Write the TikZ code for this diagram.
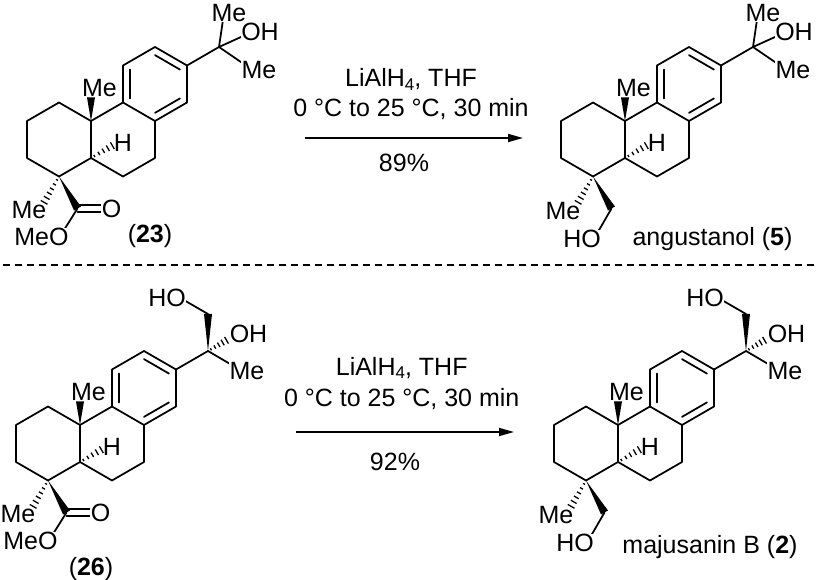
\documentclass[tikz,border=0pt]{standalone}
\usepackage{fontspec}
\setmainfont{Liberation Sans}
\usetikzlibrary{calc,arrows.meta}

\tikzset{
  bond/.style={line width=1.75pt, line join=round, line cap=round},
  lbl/.style={inner sep=0.6pt, fill=white, font=\fontsize{25}{25}\selectfont},
  txt/.style={inner sep=0pt, font=\fontsize{25}{25}\selectfont, anchor=base},
  rxnarrow/.style={line width=1.5pt, -{Triangle[length=15pt,width=8pt]}},
  sepline/.style={line width=1.5pt, dash pattern=on 7pt off 5pt},
}

\newcommand\sbs[1]{\raisebox{-3.5pt}{\fontsize{17}{17}\selectfont #1}}

% wedge: narrow at #1, wide (half width #3) at #2
\newcommand\wedgebond[3]{%
  \fill ($(#1)$) -- ($(#2)!#3!90:(#1)$) -- ($(#2)!#3!-90:(#1)$) -- cycle;
}
% hashed bond: #1 start, #2 end, #3 number of lines, #4 max half length
\newcommand\hashbond[4]{%
  \foreach \i in {1,...,#3}{%
    \pgfmathsetmacro\hT{(\i-0.25)/#3}%
    \pgfmathsetmacro\hW{0.7+(#4-0.7)*\hT}%
    \coordinate (hp) at ($(#1)!\hT!(#2)$);
    \draw[line width=1.3pt] ($(hp)!\hW pt!90:(#2)$) -- ($(hp)!\hW pt!-90:(#2)$);
  }%
}

% tricyclic core, C10 at (#2,#3)
\newcommand\core[3]{%
  \begin{scope}[shift={(#2,#3)}]
    \coordinate (#1c10) at (0,0);
    \coordinate (#1c1) at (-32,-18.5);
    \coordinate (#1c2) at (-64,0);
    \coordinate (#1c3) at (-64,37);
    \coordinate (#1c4) at (-32,55.5);
    \coordinate (#1c5) at (0,37);
    \coordinate (#1c9) at (32,-18.5);
    \coordinate (#1c8) at (64,0);
    \coordinate (#1c7) at (64,37);
    \coordinate (#1c6) at (32,55.5);
    \coordinate (#1c11) at (32,-55.5);
    \coordinate (#1c12) at (64,-74);
    \coordinate (#1c13) at (96,-55.5);
    \coordinate (#1c14) at (96,-18.5);
    \coordinate (#1rc) at (64,-37);
    \coordinate (#1c15) at (128,-74);
    \coordinate (#1mew) at (0,-23.5);
    \coordinate (#1hh) at (22.5,24);
    \draw[bond] (#1c10)--(#1c1)--(#1c2)--(#1c3)--(#1c4)--(#1c5)--cycle;
    \draw[bond] (#1c10)--(#1c9)--(#1c8)--(#1c7)--(#1c6)--(#1c5);
    \draw[bond] (#1c9)--(#1c11)--(#1c12)--(#1c13)--(#1c14)--(#1c8);
    \draw[bond] ($(#1c9)!0.22!(#1rc)$) -- ($(#1c11)!0.22!(#1rc)$);
    \draw[bond] ($(#1c12)!0.22!(#1rc)$) -- ($(#1c13)!0.22!(#1rc)$);
    \draw[bond] ($(#1c14)!0.22!(#1rc)$) -- ($(#1c8)!0.22!(#1rc)$);
    \draw[bond] (#1c13)--(#1c15);
    \node[lbl] (#1meL) at (8.5,-33) {Me};
    \node[lbl] (#1hL) at (32,22) {H};
    \wedgebond{#1c10}{#1mew}{4pt}
    \hashbond{#1c5}{#1hh}{5}{4}
  \end{scope}%
}

% C(Me)2OH group
\newcommand\topMeOH[3]{%
  \begin{scope}[shift={(#2,#3)}]
    \coordinate (#1meT) at (133,-108);
    \coordinate (#1oh) at (161,-89);
    \coordinate (#1meB) at (161.5,-51);
    \draw[bond] (#1c15)--(#1meT);
    \draw[bond] (#1c15)--(#1oh);
    \draw[bond] (#1c15)--(#1meB);
    \node[lbl] (#1meTL) at (138,-108) {Me};
    \node[lbl] (#1ohL) at (169,-89) {OH};
    \node[lbl] (#1meBL) at (168,-51) {Me};
  \end{scope}%
}

% C(OH)(Me)CH2OH group
\newcommand\topDiol[3]{%
  \begin{scope}[shift={(#2,#3)}]
    \coordinate (#1ch2) at (128,-111);
    \coordinate (#1o4) at (96,-129.5);
    \coordinate (#1hoh) at (147.5,-85.3);
    \coordinate (#1me5) at (159.5,-55.5);
    \draw[bond] (#1ch2)--(#1o4);
    \draw[bond] (#1c15)--(#1me5);
    \node[lbl] (#1hoL) at (87,-127) {HO};
    \node[lbl] (#1ohL) at (168.5,-91) {OH};
    \node[lbl] (#1me5L) at (167,-53.5) {Me};
    \wedgebond{#1c15}{#1ch2}{4pt}
    \hashbond{#1c15}{#1hoh}{5}{4}
  \end{scope}%
}

% methyl ester at C4
\newcommand\ester[3]{%
  \begin{scope}[shift={(#2,#3)}]
    \coordinate (#1cc) at (-13.5,87.5);
    \coordinate (#1o1) at (21,87.5);
    \coordinate (#1o2) at (-32,117);
    \coordinate (#1hme) at (-47.5,82.5);
    \draw[bond] ($(#1cc)+(0,-3.6)$) -- ($(#1o1)+(0,-3.6)$);
    \draw[bond] ($(#1cc)+(0,3.6)$) -- ($(#1o1)+(0,3.6)$);
    \draw[bond] (#1cc)--(#1o2);
    \node[lbl] (#1o1L) at (20.5,88) {O};
    \node[lbl] (#1meoL) at (-49.5,116) {MeO};
    \node[lbl] (#1me4L) at (-62,89.5) {Me};
    \wedgebond{#1c4}{#1cc}{4pt}
    \hashbond{#1c4}{#1hme}{6}{4}
  \end{scope}%
}

% CH2OH at C4
\newcommand\carbinol[3]{%
  \begin{scope}[shift={(#2,#3)}]
    \coordinate (#1ch) at (-13.5,87.5);
    \coordinate (#1o3) at (-32,119.5);
    \coordinate (#1hme) at (-47.5,82.5);
    \draw[bond] (#1ch)--(#1o3);
    \node[lbl] (#1hoL) at (-43,118) {HO};
    \node[lbl] (#1me4L) at (-62,90) {Me};
    \wedgebond{#1c4}{#1ch}{4pt}
    \hashbond{#1c4}{#1hme}{6}{4}
  \end{scope}%
}

\begin{document}
\begin{tikzpicture}[x=1pt,y=-1pt]
  \useasboundingbox (0,0) rectangle (823,580);
  \fill[white] (0,0) rectangle (823,580);

  % molecules
  \core{a}{91}{121}
  \topMeOH{a}{91}{121}
  \ester{a}{91}{121}

  \core{c}{625}{121}
  \topMeOH{c}{625}{121}
  \carbinol{c}{625}{121}

  \core{b}{80}{425}
  \topDiol{b}{80}{425}
  \ester{b}{80}{425}

  \core{d}{618}{425}
  \topDiol{d}{618}{425}
  \carbinol{d}{618}{425}

  % compound names
  \node[txt] (n23) at (150,243) {(\textbf{23})};
  \node[txt] (n5) at (712.5,246) {angustanol (\textbf{5})};
  \node[txt] (n26) at (91,575) {(\textbf{26})};
  \node[txt] (n2) at (710,553) {majusanin B (\textbf{2})};

  % top reaction
  \coordinate (a1s) at (305,138);
  \coordinate (a1e) at (523,138);
  \draw[rxnarrow] (a1s) -- (a1e);
  \node[txt] (t1a) at (411,86.7) {LiAlH\sbs{4}, THF};
  \node[txt] (t1b) at (411,116.7) {0 °C to 25 °C, 30 min};
  \node[txt] (t1c) at (404,171.7) {89\%};

  % separator
  \coordinate (dl) at (3,265);
  \coordinate (dr) at (818,265);
  \draw[sepline] (dl) -- (dr);

  % bottom reaction
  \coordinate (a2s) at (296,432);
  \coordinate (a2e) at (514,432);
  \draw[rxnarrow] (a2s) -- (a2e);
  \node[txt] (t2a) at (401.7,375.5) {LiAlH\sbs{4}, THF};
  \node[txt] (t2b) at (401.7,406.5) {0 °C to 25 °C, 30 min};
  \node[txt] (t2c) at (395,471) {92\%};
\end{tikzpicture}
\end{document}
